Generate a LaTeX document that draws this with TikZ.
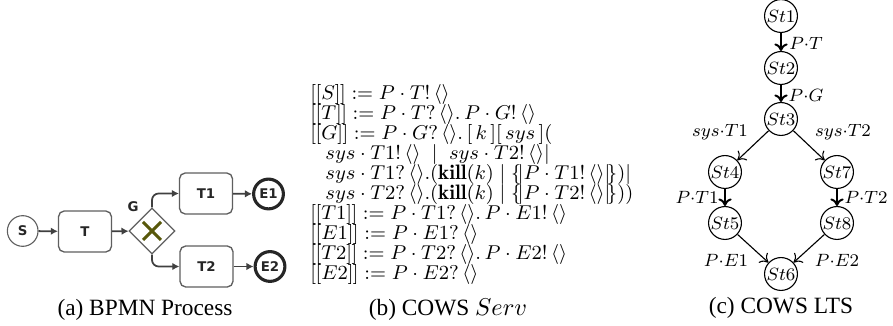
\documentclass[tikz,border=0pt]{standalone}
\usepackage{fontspec}
\newfontfamily\capfont{Liberation Serif}
\newfontfamily\bpmnfont{DejaVu Sans}
\usetikzlibrary{arrows.meta,shapes.geometric}
\definecolor{gwolive}{RGB}{88,88,10}
\definecolor{bpmngray}{RGB}{95,95,95}
\newcommand{\lb}{[\mkern-0.5mu[}
\newcommand{\rb}{]\mkern-0.5mu]}
\newcommand{\lpb}{\{\mkern-3mu|}
\newcommand{\rpb}{|\mkern-3mu\}}
\begin{document}
\begin{tikzpicture}[x=0.45pt,y=-0.45pt,
  bpmnbox/.style={draw=bpmngray, line width=0.6pt, rounded corners=2.5pt, fill=white,
    minimum width=23.8pt, minimum height=18.4pt, inner sep=0pt,
    font=\bpmnfont\bfseries\fontsize{6}{7}\selectfont, text=black!85},
  startev/.style={circle, draw=bpmngray, line width=0.5pt, minimum size=13.8pt, inner sep=0pt,
    font=\bpmnfont\bfseries\fontsize{6}{7}\selectfont, text=black!85},
  endev/.style={circle, draw=black!85, line width=1.4pt, minimum size=13.4pt, inner sep=0pt,
    font=\bpmnfont\bfseries\fontsize{6}{7}\selectfont, text=black!85},
  gateway/.style={diamond, draw=bpmngray, line width=0.5pt, minimum width=20.7pt, minimum height=20.7pt, inner sep=0pt, fill=white},
  bflow/.style={draw=black!75, line width=0.8pt, -{Latex[length=3.2pt,width=3.4pt]}},
  cows/.style={anchor=base west, inner sep=0pt, font=\fontsize{9.4}{10}\selectfont},
  state/.style={circle, draw, line width=0.5pt, minimum size=14.8pt, inner sep=0pt, font=\fontsize{8}{9}\selectfont},
  tr/.style={draw, line width=0.5pt, -{To[length=3.4pt,width=6pt]}},
  trv/.style={tr, line width=0.9pt},
  lbl/.style={inner sep=0pt, font=\fontsize{8}{9}\selectfont},
  captext/.style={inner sep=0pt, font=\capfont\fontsize{10.5}{12}\selectfont}
]
\useasboundingbox (0,0) rectangle (893,326);

% ---------------- (a) BPMN ----------------
\node[startev] (S) at (22.7,231) {S};
\node[bpmnbox] (T) at (85,231.5) {T};
\node[gateway] (G) at (152,231) {};
\draw[gwolive, line width=1.3pt] (143,222) -- (161,240) (143,240) -- (161,222);
\node[font=\bpmnfont\bfseries\fontsize{6}{7}\selectfont, text=black!85, inner sep=0pt] (Glab) at (133,207) {G};
\node[bpmnbox] (T1) at (206,193.5) {T1};
\node[bpmnbox] (T2) at (206.5,266.5) {T2};
\node[endev] (E1) at (268.5,194) {E1};
\node[endev] (E2) at (270,266.5) {E2};
\draw[bflow] (S) -- (T);
\draw[bflow] (T) -- (G);
\draw[bflow, rounded corners=3pt] (G.north) |- (T1.west);
\draw[bflow, rounded corners=3pt] (G.south) |- (T2.west);
\draw[bflow] (T1) -- (E1);
\draw[bflow] (T2) -- (E2);
\node[captext] (capa) at (145,310) {(a) BPMN Process};

% ---------------- (b) COWS ----------------
\node[cows] (c1) at (310,100) {$\lb S\rb := P\cdot T!\,\langle\rangle$};
\node[cows] (c2) at (310,120) {$\lb T\rb := P\cdot T?\,\langle\rangle.\,P\cdot G!\,\langle\rangle$};
\node[cows] (c3) at (310,140) {$\lb G\rb := P\cdot G?\,\langle\rangle.\,[\,k\,][\,sys\,]($};
\node[cows] (c4) at (325,160) {$sys\cdot T1!\,\langle\rangle\;\mid\;sys\cdot T2!\,\langle\rangle|$};
\node[cows] (c5) at (325,180) {$sys\cdot T1?\,\langle\rangle.(\mathbf{kill}(k)\mid\lpb P\cdot T1!\,\langle\rangle\rpb)|$};
\node[cows] (c6) at (325,200) {$sys\cdot T2?\,\langle\rangle.(\mathbf{kill}(k)\mid\lpb P\cdot T2!\,\langle\rangle\rpb))$};
\node[cows] (c7) at (310,220) {$\lb T1\rb := P\cdot T1?\,\langle\rangle.\,P\cdot E1!\,\langle\rangle$};
\node[cows] (c8) at (310,240) {$\lb E1\rb := P\cdot E1?\,\langle\rangle$};
\node[cows] (c9) at (310,260) {$\lb T2\rb := P\cdot T2?\,\langle\rangle.\,P\cdot E2!\,\langle\rangle$};
\node[cows] (c10) at (310,280) {$\lb E2\rb := P\cdot E2?\,\langle\rangle$};
\node[captext] (capb) at (448,310) {(b) COWS $Serv$};

% ---------------- (c) LTS ----------------
\node[state] (s1) at (781,16) {$St1$};
\node[state] (s2) at (781,68) {$St2$};
\node[state] (s3) at (781,119) {$St3$};
\node[state] (s4) at (725,172) {$St4$};
\node[state] (s7) at (837,172) {$St7$};
\node[state] (s5) at (725,223) {$St5$};
\node[state] (s8) at (837,223) {$St8$};
\node[state] (s6) at (781,274) {$St6$};
\draw[trv] (s1) -- (s2);
\draw[trv] (s2) -- (s3);
\draw[tr] (s3) -- (s4);
\draw[tr] (s3) -- (s7);
\draw[trv] (s4) -- (s5);
\draw[trv] (s7) -- (s8);
\draw[tr] (s5) -- (s6);
\draw[tr] (s8) -- (s6);
\node[lbl] (l12) at (806,43) {$P{\cdot}T$};
\node[lbl] (l23) at (806,95) {$P{\cdot}G$};
\node[lbl] (l34) at (720,132) {$sys{\cdot}T1$};
\node[lbl] (l37) at (843,132) {$sys{\cdot}T2$};
\node[lbl] (l45) at (697,197) {$P{\cdot}T1$};
\node[lbl] (l78) at (866,197) {$P{\cdot}T2$};
\node[lbl] (l56) at (726,260) {$P{\cdot}E1$};
\node[lbl] (l86) at (837,260) {$P{\cdot}E2$};
\node[captext] (capc) at (781,308) {(c) COWS LTS};
\end{tikzpicture}
\end{document}
